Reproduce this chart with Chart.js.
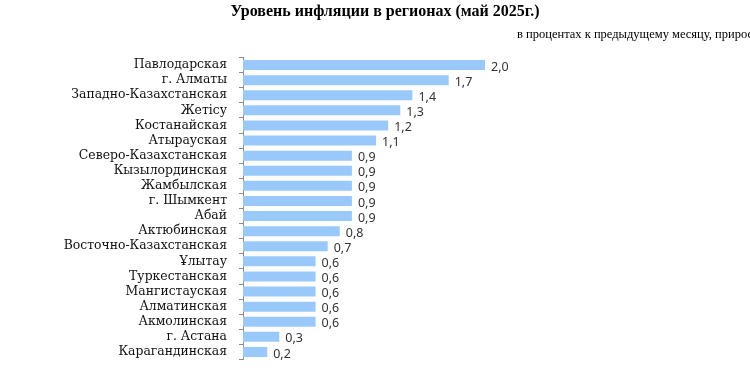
<!DOCTYPE html>
<html>
<head>
<meta charset="utf-8">
<script src="https://cdn.jsdelivr.net/npm/chart.js@4/dist/chart.umd.min.js"></script>
<style>
  html, body { margin: 0; padding: 0; background: #fff; }
  #wrap { width: 750px; height: 375px; }
</style>
</head>
<body>
<div id="wrap"><canvas id="chart" width="750" height="375"></canvas></div>
<script>
// regioes, de cima para baixo
var regions = ['Павлодарская', 'г. Алматы', 'Западно-Казахстанская', 'Жетісу', 'Костанайская',
    'Атырауская', 'Северо-Казахстанская', 'Кызылординская', 'Жамбылская', 'г. Шымкент',
    'Абай', 'Актюбинская', 'Восточно-Казахстанская', 'Ұлытау', 'Туркестанская',
    'Мангистауская', 'Алматинская', 'Акмолинская', 'г. Астана', 'Карагандинская'];
var inflation = [2.0, 1.7, 1.4, 1.3, 1.2, 1.1, 0.9, 0.9, 0.9, 0.9,
    0.9, 0.8, 0.7, 0.6, 0.6, 0.6, 0.6, 0.6, 0.3, 0.2];

var title = 'Уровень инфляции в регионах (май 2025г.)';
var subtitle = 'в процентах к предыдущему месяцу, прирост';

// titulos desenhados a mao (o subtitulo sai cortado na borda, como no original)
var headerPlugin = {
    id: 'header',
    afterDraw: function(chart) {
        var c = chart.ctx;
        c.save();
        c.fillStyle = '#000';
        c.textBaseline = 'middle';
        c.font = 'bold 16px "Liberation Serif"';
        c.textAlign = 'center';
        c.fillText(title, 385, 12);
        c.font = '12.5px "Liberation Serif"';
        c.textAlign = 'left';
        c.fillText(subtitle, 517, 35);
        c.restore();
    }
};

// valores na ponta das barras, com virgula
var valuePlugin = {
    id: 'values',
    afterDatasetsDraw: function(chart) {
        var c = chart.ctx;
        var meta = chart.getDatasetMeta(0);
        c.save();
        c.fillStyle = '#333';
        c.font = '12.5px "Noto Sans"';
        c.textAlign = 'left';
        c.textBaseline = 'middle';
        meta.data.forEach(function(bar, i) {
            c.fillText(inflation[i].toFixed(1).replace('.', ','), bar.x + 6, bar.y + 2);
        });
        c.restore();
    }
};

var ctx = document.getElementById('chart').getContext('2d');
var myChart = new Chart(ctx, {
    type: 'bar',
    data: {
        labels: regions,
        datasets: [{
            data: inflation,
            backgroundColor: '#99c9fb',
            borderWidth: 0,
            barPercentage: 0.66,
            categoryPercentage: 1
        }]
    },
    options: {
        indexAxis: 'y',
        responsive: false,
        animation: false,
        layout: { padding: { top: 57.5, bottom: 15.5, left: 0, right: 144 } },
        scales: {
            x: { display: false, min: 0, max: 3 },
            y: {
                afterFit: function(scale) {
                    scale.width = 243;
                    scale.paddingTop = 0;
                    scale.paddingBottom = 0;
                },
                border: { color: '#8c8c8c', width: 1 },
                grid: { drawOnChartArea: false, tickLength: 4, color: '#8c8c8c' },
                ticks: { color: '#111', padding: 12, autoSkip: false, font: { family: 'DejaVu Serif', size: 12.4 } }
            }
        },
        plugins: {
            legend: { display: false },
            tooltip: { enabled: false }
        }
    },
    plugins: [headerPlugin, valuePlugin]
});
</script>
</body>
</html>
